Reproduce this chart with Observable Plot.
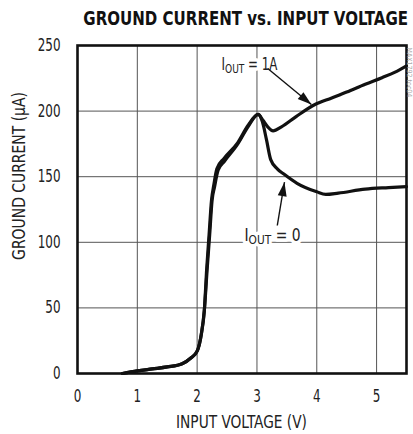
<!DOCTYPE html>
<html><head><meta charset="utf-8">
<script src="https://cdn.jsdelivr.net/npm/d3@7"></script>
<script src="https://cdn.jsdelivr.net/npm/@observablehq/plot@0.6"></script>
<style>
html,body{margin:0;padding:0;background:#fff;}
</style>
</head><body><div id="chart"></div>
<script>
const title = "GROUND CURRENT vs. INPUT VOLTAGE";
const xTitle = "INPUT VOLTAGE (V)";
const yTitle = "GROUND CURRENT (µA)";
const codeText = "MAX1792 toc04";
const xTicks = [0, 1, 2, 3, 4, 5];
const yTicks = [0, 50, 100, 150, 200, 250];

const volt1A = [0.75,1.0,1.25,1.5,1.75,1.9,2.0,2.07,2.12,2.17,2.21,2.25,2.29,2.35,2.46,2.68,2.85,3.02,3.1,3.18,3.27,3.41,3.66,3.97,4.25,4.5,4.81,5.09,5.3,5.5];
const curr1A = [0,2,3.5,5,7.5,12,17,30,48,81,106,132,142,155,162,175,188,197.5,193,188,185,188,196,205,210,214.5,220.5,225.5,229.5,234.5];
const volt0 = [0.75,1.0,1.25,1.5,1.75,1.9,2.0,2.07,2.12,2.16,2.2,2.24,2.28,2.33,2.45,2.68,2.85,3.02,3.09,3.16,3.23,3.34,3.45,3.67,4.0,4.15,4.36,4.81,5.2,5.5];
const curr0 = [0,2,3.5,5,7.5,12,17,30,48,80,106,132,144,156,164,176,189,197.5,192,178,163,156,152,145,138.5,136.5,137.5,140.5,141.7,142.5];

const labelText = ["IOUT = 1A", "IOUT = 0"];
const labelV = [2.875, 3.26];
const labelI = [235.5, 105.2];
const arrowFromV = [3.18, 3.34];
const arrowFromI = [232.5, 112.8];
const arrowToV = [3.91, 3.46];
const arrowToI = [205, 145.8];

const FONT = "'Liberation Sans Narrow','DejaVu Sans Condensed','DejaVu Sans',sans-serif";

const series = [
  ...volt1A.map((v, i) => ({v, c: curr1A[i], s: "1A"})),
  ...volt0.map((v, i) => ({v, c: curr0[i], s: "0"}))
];
const labels = labelText.map((t, i) => ({t, v: labelV[i], c: labelI[i]}));
const arrows = arrowFromV.map((v, i) => ({v1: v, c1: arrowFromI[i], v2: arrowToV[i], c2: arrowToI[i]}));

const headSymbol = {
  draw(ctx) {
    ctx.moveTo(0, 0);
    ctx.lineTo(4.5, 14);
    ctx.lineTo(-4.5, 14);
    ctx.closePath();
  }
};

function build(angles) {
  return Plot.plot({
    width: 413,
    height: 434,
    marginLeft: 77,
    marginRight: 7,
    marginTop: 45,
    marginBottom: 61,
    x: {domain: [0, 5.5]},
    y: {domain: [0, 250]},
    style: {fontFamily: FONT, fontSize: "17px", color: "#222", background: "white"},
    marks: [
      Plot.gridX(xTicks, {stroke: "#555", strokeOpacity: 1, strokeWidth: 1}),
      Plot.gridY(yTicks, {stroke: "#555", strokeOpacity: 1, strokeWidth: 1}),
      Plot.axisX(xTicks, {tickSize: 0, tickPadding: 16, label: null, fontSize: 17, ariaDescription: "ticks"}),
      Plot.axisY(yTicks, {tickSize: 0, tickPadding: 17, label: null, fontSize: 17, ariaDescription: "ticks"}),
      Plot.line(series, {x: "v", y: "c", z: "s", stroke: "#111", strokeWidth: 3.2, curve: "monotone-x", strokeLinecap: "round", strokeLinejoin: "round"}),
      Plot.frame({stroke: "#111", strokeWidth: 2.6}),
      Plot.text(labels, {x: "v", y: "c", text: "t", fontSize: 17, fill: "white", stroke: "white", strokeWidth: 7, ariaDescription: "iout-halo"}),
      Plot.text(labels, {x: "v", y: "c", text: "t", fontSize: 17, fill: "#222", ariaDescription: "iout-label"}),
      Plot.link(arrows, {x1: "v1", y1: "c1", x2: "v2", y2: "c2", stroke: "#111", strokeWidth: 1.4}),
      Plot.dot(arrows, {x: "v2", y: "c2", symbol: headSymbol, fill: "#111", stroke: "none", r: 5, rotate: (d, i) => angles[i]}),
      Plot.text([codeText], {frameAnchor: "top-right", dx: 5, dy: 2, rotate: 90, textAnchor: "start", fontSize: 7, fill: "#aaa", ariaDescription: "code"})
    ]
  });
}

const first = build(arrows.map(() => 0));
const sx = first.scale("x"), sy = first.scale("y");
const angles = arrows.map(a => {
  const dx = sx.apply(a.v2) - sx.apply(a.v1);
  const dy = sy.apply(a.c2) - sy.apply(a.c1);
  return Math.atan2(dx, -dy) * 180 / Math.PI;
});
const chart = build(angles);
document.getElementById("chart").appendChild(chart);

const ns = "http://www.w3.org/2000/svg";
const svg = d3.select(chart);

// condense a text horizontally (narrow typeface look) around its anchor
function squeeze(el, base, target) {
  const w = el.getComputedTextLength();
  el.setAttribute("transform", `${base} scale(${(target / w).toFixed(3)},1)`);
}

// titles (axis labels and chart title), placed in the margins
const [fx0, fx1] = sx.range, [fy0, fy1] = sy.range; // fy0 = bottom, fy1 = top
const tTitle = svg.append("text").text(title)
  .attr("text-anchor", "end").attr("font-weight", "bold")
  .attr("font-size", 20).attr("fill", "#111");
squeeze(tTitle.node(), `translate(${fx1 + 2},${fy1 - 20})`, 325);
const tX = svg.append("text").text(xTitle)
  .attr("text-anchor", "middle").attr("font-size", 17).attr("fill", "#222");
squeeze(tX.node(), `translate(${(fx0 + fx1) / 2},${fy0 + 55})`, 131);
const tY = svg.append("text").text(yTitle)
  .attr("text-anchor", "middle").attr("font-size", 17).attr("fill", "#222");
squeeze(tY.node(), `translate(${fx0 - 52},${(fy0 + fy1) / 2 - 33}) rotate(-90)`, 168);

function groupTexts(desc) {
  const out = [];
  chart.querySelectorAll("g").forEach(g => {
    if (g.getAttribute("aria-description") === desc) g.querySelectorAll("text").forEach(t => out.push(t));
  });
  return out;
}

// subscript "OUT", condensed with a horizontal scale
function subscript(el) {
  const full = el.textContent;
  const rest = full.slice(4);
  el.textContent = "";
  const t1 = document.createElementNS(ns, "tspan"); t1.textContent = "I";
  const t2 = document.createElementNS(ns, "tspan"); t2.textContent = "OUT";
  t2.setAttribute("font-size", "13"); t2.setAttribute("dy", "3");
  const t3 = document.createElementNS(ns, "tspan"); t3.textContent = rest;
  t3.setAttribute("dy", "-3");
  el.append(t1, t2, t3);
  squeeze(el, el.getAttribute("transform") || "", 56);
}
groupTexts("iout-halo").forEach(subscript);
groupTexts("iout-label").forEach(subscript);

groupTexts("ticks").forEach(el => {
  el.setAttribute("textLength", (el.getComputedTextLength() * 0.78).toFixed(2));
  el.setAttribute("lengthAdjust", "spacingAndGlyphs");
});
</script>
</body></html>
